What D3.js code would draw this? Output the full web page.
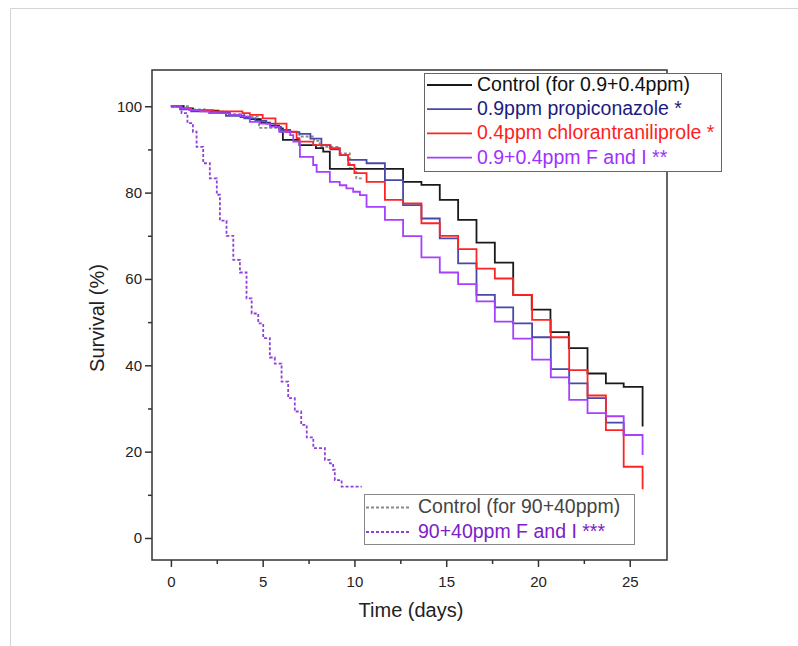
<!DOCTYPE html>
<html>
<head>
<meta charset="utf-8">
<script src="https://cdn.jsdelivr.net/npm/d3@7"></script>
<style>
  body { margin: 0; background: #fff; }
  svg { font-family: 'Liberation Sans', Arial, sans-serif; }
</style>
</head>
<body>
<div class="survival-chart"></div>
<script>
// survival curves, [day, survival %] at each step
const control04 = [[0,100],[0.7,99.5],[1.2,99.0],[2.6,98.5],[3.2,98.0],[3.8,97.5],[4.3,97.0],[4.9,96.2],[5.4,95.5],[5.9,94.9],[6.1,92.2],[7.0,91.0],[7.9,90.3],[8.3,89.5],[8.66,85.5],[12.65,82.5],[13.65,81.8],[14.65,78.3],[15.65,73.7],[16.65,68.4],[17.65,63.8],[18.65,56.3],[19.66,52.9],[20.68,47.7],[21.68,44.0],[22.7,38.1],[23.7,35.8],[24.67,35.0],[25.7,25.8]];
const propiconazole = [[0,100],[0.5,99.3],[1.1,98.8],[2.1,98.4],[3.0,97.8],[4.0,97.2],[4.6,96.6],[5.2,96.0],[5.7,95.2],[6.0,94.5],[6.5,94.0],[7.0,93.6],[7.6,92.5],[8.2,91.0],[8.7,90.0],[9.2,88.7],[9.66,87.6],[10.66,86.8],[11.66,82.9],[12.65,77.1],[13.65,74.0],[14.65,69.4],[15.65,63.6],[16.65,56.3],[17.65,53.4],[18.65,49.7],[19.68,46.5],[20.7,39.1],[21.7,35.8],[22.7,32.4],[23.7,26.7],[24.67,23.9],[25.7,23.9]];
const chlorantraniliprole = [[0,100],[0.5,99.5],[1.1,99.1],[2.3,98.8],[3.9,98.4],[4.3,98.0],[5.0,97.2],[5.7,96.0],[6.3,94.1],[6.85,92.6],[7.0,91.8],[7.75,91.0],[8.66,90.3],[9.2,88.7],[9.66,86.4],[10.0,84.5],[10.66,82.5],[11.66,78.3],[12.65,77.5],[13.65,72.9],[14.65,70.0],[15.65,66.9],[16.65,62.4],[17.65,60.1],[18.65,56.3],[19.68,50.5],[20.7,46.5],[21.7,38.9],[22.7,33.0],[23.7,25.0],[24.67,16.5],[25.7,11.3]];
const mix04 = [[0,100],[0.5,99.5],[1.0,99.1],[1.6,98.8],[2.1,98.4],[3.2,98.0],[3.8,97.6],[4.3,96.4],[4.85,96.0],[5.4,95.3],[5.9,94.1],[6.5,93.3],[6.67,91.8],[7.03,88.3],[7.75,86.4],[7.94,84.8],[8.66,82.5],[9.2,81.7],[9.56,81.0],[9.93,80.2],[10.3,79.4],[10.66,76.7],[11.66,73.7],[12.65,69.9],[13.65,65.0],[14.65,61.5],[15.65,58.8],[16.65,54.8],[17.65,50.1],[18.65,46.2],[19.68,41.3],[20.7,37.2],[21.7,32.0],[22.7,28.9],[23.7,28.2],[24.67,23.9],[25.7,19.2]];
const control40 = [[0,100],[1.0,99.3],[2.0,98.8],[3.0,98.2],[4.0,97.6],[4.8,95.0],[5.9,94.0],[7.0,93.0],[7.8,92.0],[8.1,90.6],[9.2,89.1],[9.75,85.6],[10.1,83.3],[10.4,83.3]];
const mix40 = [[0,100],[0.58,98.4],[0.9,96.1],[1.2,94.1],[1.4,90.6],[1.76,86.8],[2.12,83.3],[2.5,79.5],[2.67,73.5],[3.03,70.0],[3.4,64.4],[3.76,61.5],[4.12,55.5],[4.4,52.0],[4.76,49.7],[5.03,46.3],[5.39,41.8],[5.66,40.4],[6.03,36.2],[6.39,32.4],[6.75,29.3],[7.1,26.2],[7.4,23.3],[7.76,20.8],[8.39,18.1],[8.66,17.3],[8.84,15.8],[8.93,13.4],[9.3,11.9],[10.4,11.9]];

const xTicks = [0, 5, 10, 15, 20, 25];
const xMinorTicks = [2.5, 7.5, 12.5, 17.5, 22.5];
const yTicks = [0, 20, 40, 60, 80, 100];
const yMinorTicks = [10, 30, 50, 70, 90];

const legendTopLabels = ['Control (for 0.9+0.4ppm)', '0.9ppm propiconazole *', '0.4ppm chlorantraniliprole *', '0.9+0.4ppm F and I **'];
const legendBottomLabels = ['Control (for 90+40ppm)', '90+40ppm F and I ***'];

createChart();

function createChart() {
    const width = 798;
    const height = 646;
    const left = 152, right = 667, top = 70, bottom = 560;

    const svg = d3.select('.survival-chart')
        .append('svg')
        .attr('width', width)
        .attr('height', height);

    // page border (top and left edges only)
    svg.append('path')
        .attr('d', 'M10.5,646 V8.5 H798')
        .attr('fill', 'none')
        .attr('stroke', '#d4d4d4');

    const x = d3.scaleLinear().domain([-1.03, 27.03]).range([left, right]);
    const y = d3.scaleLinear().domain([-5.1, 108.4]).range([bottom, top]);

    // axes
    svg.append('g')
        .attr('transform', `translate(0,${bottom})`)
        .call(d3.axisBottom(x).tickValues(xTicks).tickSize(7).tickPadding(9).tickSizeOuter(0));
    svg.append('g')
        .attr('transform', `translate(0,${bottom})`)
        .call(d3.axisBottom(x).tickValues(xMinorTicks).tickSize(4).tickFormat('').tickSizeOuter(0));
    svg.append('g')
        .attr('transform', `translate(${left},0)`)
        .call(d3.axisLeft(y).tickValues(yTicks).tickSize(7).tickPadding(3).tickSizeOuter(0));
    svg.append('g')
        .attr('transform', `translate(${left},0)`)
        .call(d3.axisLeft(y).tickValues(yMinorTicks).tickSize(4).tickFormat('').tickSizeOuter(0));

    svg.selectAll('.domain').remove();
    svg.selectAll('.tick line')
        .attr('stroke', '#333')
        .attr('stroke-width', 1.5);
    svg.selectAll('.tick text')
        .attr('font-family', "'Liberation Sans', Arial, sans-serif")
        .attr('font-size', '15px')
        .attr('fill', '#222');

    // frame
    svg.append('rect')
        .attr('x', left)
        .attr('y', top)
        .attr('width', right - left)
        .attr('height', bottom - top)
        .attr('fill', 'none')
        .attr('stroke', '#333')
        .attr('stroke-width', 1.5);

    // axis titles
    svg.append('text')
        .text('Time (days)')
        .attr('x', 411)
        .attr('y', 617)
        .attr('text-anchor', 'middle')
        .attr('font-size', '20px')
        .attr('fill', '#222');
    svg.append('text')
        .text('Survival (%)')
        .attr('transform', 'translate(104,318) rotate(-90)')
        .attr('text-anchor', 'middle')
        .attr('font-size', '20px')
        .attr('fill', '#222');

    // curves
    const line = d3.line()
        .x(d => x(d[0]))
        .y(d => y(d[1]))
        .curve(d3.curveStepAfter);

    const series = [
        { data: control40, color: '#8a8a8a', dash: '3,2' },
        { data: control04, color: '#1a1a1a', dash: null },
        { data: propiconazole, color: '#4848a8', dash: null },
        { data: chlorantraniliprole, color: '#ff2424', dash: null },
        { data: mix04, color: '#a640ff', dash: null },
        { data: mix40, color: '#9040d8', dash: '3,2' }
    ];

    svg.selectAll('.curve')
        .data(series)
        .enter()
        .append('path')
        .attr('class', 'curve')
        .attr('d', s => line(s.data))
        .attr('fill', 'none')
        .attr('stroke', s => s.color)
        .attr('stroke-width', 1.8)
        .attr('stroke-dasharray', s => s.dash);

    // top legend
    const topColors = ['#1a1a1a', '#4848a8', '#ff2424', '#a640ff'];
    const topText = ['#111', '#1c1c80', '#ff1e1e', '#a030ff'];
    svg.append('rect')
        .attr('x', 424.5)
        .attr('y', 73.5)
        .attr('width', 297)
        .attr('height', 98)
        .attr('fill', '#fff')
        .attr('stroke', '#666');
    const legTop = svg.selectAll('.leg-top')
        .data(legendTopLabels)
        .enter()
        .append('g')
        .attr('class', 'leg-top')
        .attr('transform', (d, i) => `translate(0,${91 + i * 24.2})`);
    legTop.append('line')
        .attr('x1', 427)
        .attr('x2', 472)
        .attr('y1', -6)
        .attr('y2', -6)
        .attr('stroke', (d, i) => topColors[i])
        .attr('stroke-width', 1.8);
    legTop.append('text')
        .text(d => d)
        .attr('x', 477)
        .attr('font-size', '19.5px')
        .attr('fill', (d, i) => topText[i]);

    // bottom legend
    const bottomColors = ['#8a8a8a', '#9040d8'];
    const bottomText = ['#444', '#7c20c8'];
    svg.append('rect')
        .attr('x', 364.5)
        .attr('y', 494.5)
        .attr('width', 270)
        .attr('height', 50)
        .attr('fill', '#fff')
        .attr('stroke', '#888');
    const legBottom = svg.selectAll('.leg-bottom')
        .data(legendBottomLabels)
        .enter()
        .append('g')
        .attr('class', 'leg-bottom')
        .attr('transform', (d, i) => `translate(0,${513 + i * 24.5})`);
    legBottom.append('line')
        .attr('x1', 366)
        .attr('x2', 411)
        .attr('y1', -5.5)
        .attr('y2', -5.5)
        .attr('stroke', (d, i) => bottomColors[i])
        .attr('stroke-width', 1.8)
        .attr('stroke-dasharray', '3,2');
    legBottom.append('text')
        .text(d => d)
        .attr('x', 418)
        .attr('font-size', '19.5px')
        .attr('fill', (d, i) => bottomText[i]);
}
</script>
</body>
</html>
